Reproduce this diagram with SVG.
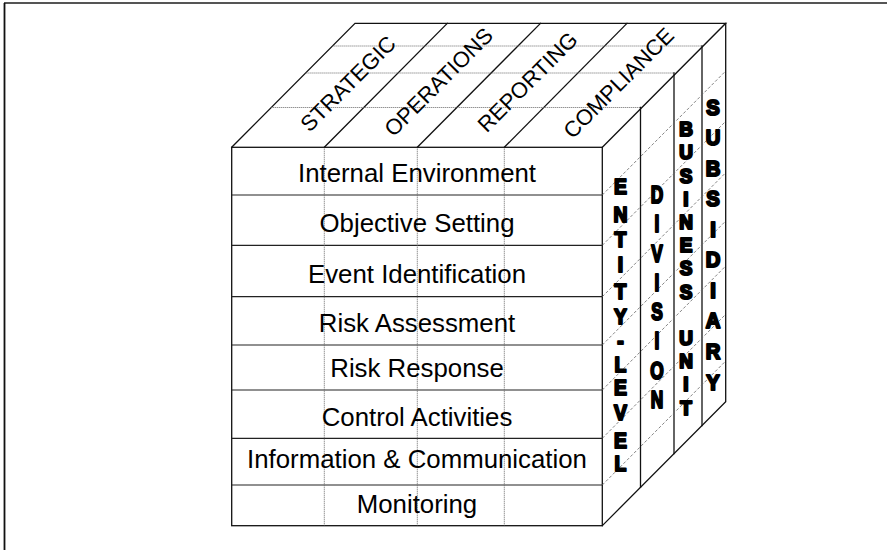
<svg xmlns="http://www.w3.org/2000/svg" width="887" height="550" viewBox="0 0 887 550">
<style>
.edge{stroke:#111;stroke-width:1.3;fill:none;stroke-linecap:square}
.row{stroke:#222;stroke-width:1.2;fill:none}
.dot{stroke:#666;stroke-width:1;stroke-dasharray:1 1;fill:none}
.dash{stroke:#666;stroke-width:0.8;stroke-dasharray:3 2;fill:none}
.lbl{font-family:"Liberation Sans",Arial,sans-serif;font-size:25.8px;fill:#000;text-anchor:middle}
.top{font-family:"Liberation Sans",Arial,sans-serif;font-size:22px;fill:#000;text-anchor:middle}
.lv{font-family:"Liberation Sans",Arial,sans-serif;font-weight:bold;fill:#000;stroke:#000;stroke-width:2.2;stroke-linejoin:round;text-anchor:middle}
</style>
<rect x="0" y="0" width="887" height="550" fill="#fff"/>
<g id="frame">
<line x1="4" y1="3" x2="887" y2="3" stroke="#555" stroke-width="1.8"/>
<line x1="4.5" y1="3" x2="4.5" y2="550" stroke="#111" stroke-width="1.8"/>
</g>
<g id="cube-lines">
<rect x="231.7" y="147.3" width="370.6" height="378.4" class="edge" fill="#fff"/>
<g class="row">
<line x1="231.7" y1="195" x2="602.3" y2="195"/>
<line x1="231.7" y1="245.3" x2="602.3" y2="245.3"/>
<line x1="231.7" y1="296.7" x2="602.3" y2="296.7"/>
<line x1="231.7" y1="345" x2="602.3" y2="345"/>
<line x1="231.7" y1="390" x2="602.3" y2="390"/>
<line x1="231.7" y1="438.3" x2="602.3" y2="438.3"/>
<line x1="231.7" y1="485" x2="602.3" y2="485"/>
</g>
<g class="dot">
<line x1="324.3" y1="147.3" x2="324.3" y2="525.7"/>
<line x1="417.3" y1="147.3" x2="417.3" y2="525.7"/>
<line x1="504.3" y1="147.3" x2="504.3" y2="525.7"/>
</g>
<path class="edge" d="M231.7,147.3 L355,23.3 L725.7,23.3 L602.3,147.3"/>
<g class="edge">
<line x1="324.3" y1="147.3" x2="447.3" y2="23.3"/>
<line x1="417.3" y1="147.3" x2="540.5" y2="23.3"/>
<line x1="504.3" y1="147.3" x2="627" y2="23.3"/>
</g>
<g class="dot">
<line x1="271.3" y1="107.5" x2="640.5" y2="107.5"/>
<line x1="305.6" y1="73" x2="674" y2="73"/>
<line x1="332.4" y1="46" x2="702" y2="46"/>
</g>
<path class="edge" d="M725.7,23.3 L725.7,401.7 L602.3,525.7"/>
<g class="edge">
<line x1="640.5" y1="107.5" x2="640.5" y2="487.3"/>
<line x1="674" y1="73" x2="674" y2="453.7"/>
<line x1="702" y1="46" x2="702" y2="425.5"/>
</g>
<g class="dash">
<line x1="602.3" y1="195" x2="725.7" y2="71"/>
<line x1="602.3" y1="245.3" x2="725.7" y2="121.3"/>
<line x1="602.3" y1="296.7" x2="725.7" y2="172.7"/>
<line x1="602.3" y1="345" x2="725.7" y2="221"/>
<line x1="602.3" y1="390" x2="725.7" y2="266"/>
<line x1="602.3" y1="438.3" x2="725.7" y2="314.3"/>
<line x1="602.3" y1="485" x2="725.7" y2="361"/>
</g>
</g>
<g id="components">
<text class="lbl" x="417" y="181.7">Internal Environment</text>
<text class="lbl" x="417" y="232.3">Objective Setting</text>
<text class="lbl" x="417" y="282.7">Event Identification</text>
<text class="lbl" x="417" y="332.3">Risk Assessment</text>
<text class="lbl" x="417" y="377.3">Risk Response</text>
<text class="lbl" x="417" y="426">Control Activities</text>
<text class="lbl" x="417" y="468.3">Information &amp; Communication</text>
<text class="lbl" x="417" y="512.7">Monitoring</text>
</g>
<g id="objectives">
<text class="top" x="0" y="8" transform="translate(347.7 83.3) rotate(-45)">STRATEGIC</text>
<text class="top" x="0" y="8" transform="translate(438.3 81.7) rotate(-45)">OPERATIONS</text>
<text class="top" x="0" y="8" transform="translate(527.3 81.7) rotate(-45)">REPORTING</text>
<text class="top" x="0" y="8" transform="translate(618.3 82.7) rotate(-45)">COMPLIANCE</text>
</g>
<g id="entity-level" transform="translate(620.5 0) scale(0.86 1)">
<text class="lv" font-size="22.5">
<tspan x="0" y="194">E</tspan><tspan x="0" y="222.4">N</tspan><tspan x="0" y="247.5">T</tspan><tspan x="0" y="272.5">I</tspan><tspan x="0" y="299">T</tspan><tspan x="0" y="324">Y</tspan><tspan x="0" y="348.5">-</tspan><tspan x="0" y="372">L</tspan><tspan x="0" y="395">E</tspan><tspan x="0" y="420.3">V</tspan><tspan x="0" y="447.8">E</tspan><tspan x="0" y="471.3">L</tspan>
</text>
</g>
<g id="division" transform="translate(657 0) scale(0.72 1)">
<text class="lv" font-size="24">
<tspan x="0" y="203">D</tspan><tspan x="0" y="232.3">I</tspan><tspan x="0" y="261.6">V</tspan><tspan x="0" y="290.9">I</tspan><tspan x="0" y="320.2">S</tspan><tspan x="0" y="349.5">I</tspan><tspan x="0" y="378.8">O</tspan><tspan x="0" y="408.1">N</tspan>
</text>
</g>
<g id="business-unit" transform="translate(686 0) scale(0.97 1)">
<text class="lv" font-size="19.5">
<tspan x="0" y="136.3">B</tspan><tspan x="0" y="159.5">U</tspan><tspan x="0" y="182.7">S</tspan><tspan x="0" y="205.9">I</tspan><tspan x="0" y="229.1">N</tspan><tspan x="0" y="252.3">E</tspan><tspan x="0" y="275.5">S</tspan><tspan x="0" y="298.7">S</tspan><tspan x="0" y="345.1">U</tspan><tspan x="0" y="368.3">N</tspan><tspan x="0" y="391.5">I</tspan><tspan x="0" y="414.6">T</tspan>
</text>
</g>
<g id="subsidiary" transform="translate(713 0) scale(0.92 1)">
<text class="lv" font-size="22">
<tspan x="0" y="114.6">S</tspan><tspan x="0" y="145.2">U</tspan><tspan x="0" y="175.7">B</tspan><tspan x="0" y="206.3">S</tspan><tspan x="0" y="236.8">I</tspan><tspan x="0" y="267.4">D</tspan><tspan x="0" y="297.9">I</tspan><tspan x="0" y="328.5">A</tspan><tspan x="0" y="359">R</tspan><tspan x="0" y="389.6">Y</tspan>
</text>
</g>
</svg>
